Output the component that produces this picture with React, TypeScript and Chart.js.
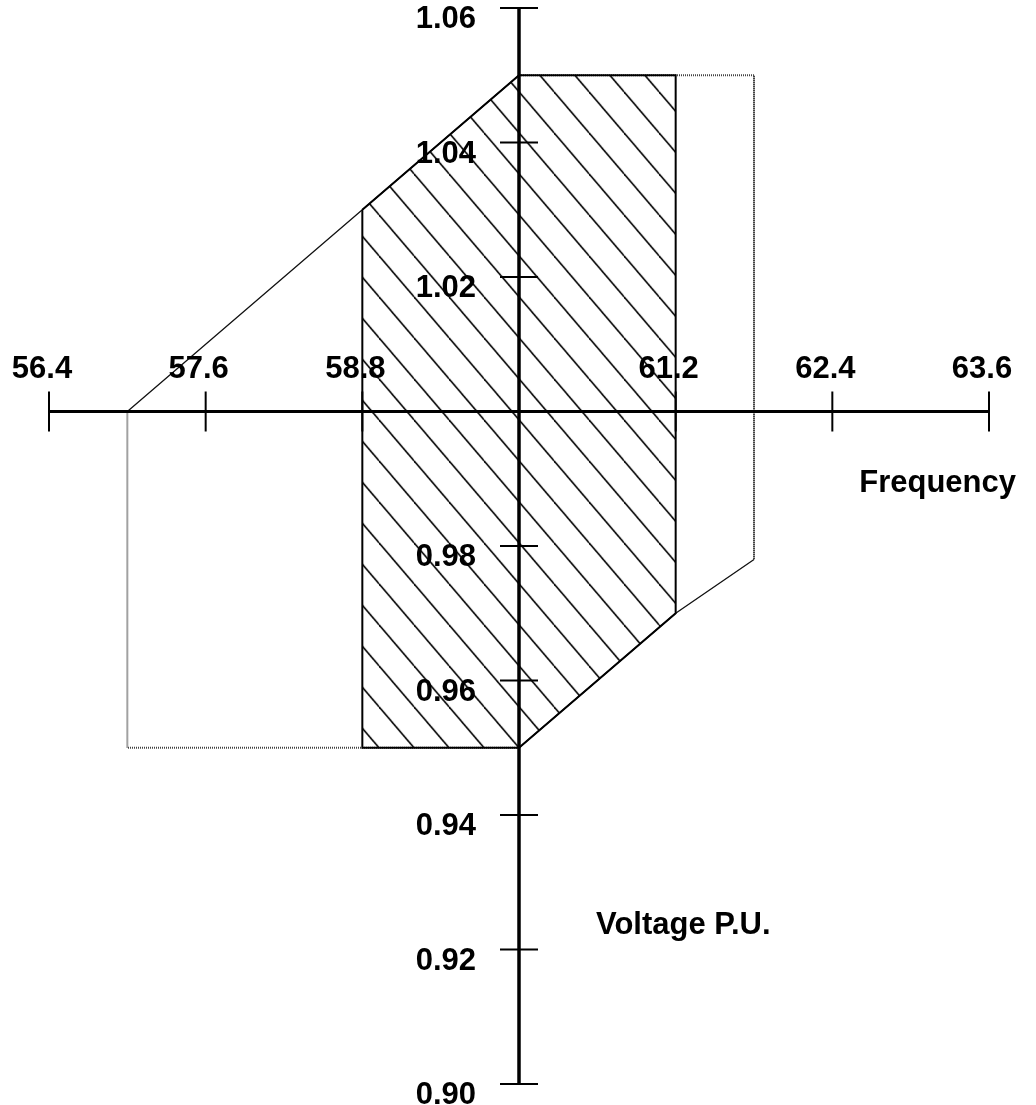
import React, { useEffect, useRef } from "react";
import { Chart, registerables } from "chart.js";

Chart.register(...registerables);

// Axis ticks
const X_TICKS = [56.4, 57.6, 58.8, 60.0, 61.2, 62.4, 63.6];
const X_TICK_LABELS = ["56.4", "57.6", "58.8", "", "61.2", "62.4", "63.6"];
const Y_TICKS = [0.9, 0.92, 0.94, 0.96, 0.98, 1.0, 1.02, 1.04, 1.06];
const Y_TICK_LABELS = ["0.90", "0.92", "0.94", "0.96", "0.98", "", "1.02", "1.04", "1.06"];
const X_CROSS = 60.0; // where the voltage axis crosses
const Y_CROSS = 1.0; // where the frequency axis crosses

// Inner (hatched) zone
const ZONE_A_FREQ = [58.8, 60.0, 61.2, 61.2, 60.0, 58.8, 58.8];
const ZONE_A_VOLT = [1.03, 1.05, 1.05, 0.97, 0.95, 0.95, 1.03];

// Outer zone
const ZONE_B_FREQ = [57.0, 58.8, 60.0, 61.8, 61.8, 61.2, 60.0, 57.0, 57.0];
const ZONE_B_VOLT = [1.0, 1.03, 1.05, 1.05, 0.978, 0.97, 0.95, 0.95, 1.0];

const X_TITLE = "Frequency";
const Y_TITLE = "Voltage P.U.";

const FONT = 'bold 31px "Liberation Sans", Arial, Helvetica, sans-serif';

function makeHatch(): CanvasPattern | string {
  const W = 35;
  const H = 41;
  const c = document.createElement("canvas");
  c.width = W;
  c.height = H;
  const g = c.getContext("2d");
  if (!g) return "transparent";
  g.strokeStyle = "#000";
  g.lineWidth = 1.6;
  for (let k = -1; k <= 1; k++) {
    g.beginPath();
    g.moveTo(k * W, 0);
    g.lineTo(k * W + W, H);
    g.stroke();
  }
  const p = g.createPattern(c, "repeat");
  return p || "transparent";
}

export default function App() {
  const ref = useRef<HTMLCanvasElement | null>(null);

  useEffect(() => {
    const canvas = ref.current;
    if (!canvas) return;
    const hatch = makeHatch();

    const zoneA = ZONE_A_FREQ.map((f, i) => ({ x: f, y: ZONE_A_VOLT[i] }));
    const zoneB = ZONE_B_FREQ.map((f, i) => ({ x: f, y: ZONE_B_VOLT[i] }));

    const setTicks = (values: number[]) => (scale: any) => {
      scale.ticks = values.map((v) => ({ value: v }));
    };

    const isOrtho = (c: any) =>
      c.p0.parsed.x === c.p1.parsed.x || c.p0.parsed.y === c.p1.parsed.y;

    const hatchAnchor = {
      id: "hatchAnchor",
      beforeDatasetsDraw(chart: any) {
        if (typeof hatch !== "string" && (hatch as any).setTransform) {
          const ax = chart.scales.x.getPixelForValue(ZONE_A_FREQ[4]);
          const ay = chart.scales.y.getPixelForValue(ZONE_A_VOLT[4]);
          (hatch as any).setTransform(new DOMMatrix([1, 0, 0, 1, ax, ay]));
        }
      },
    };

    const crossAxes = {
      id: "crossAxes",
      afterDatasetsDraw(chart: any) {
        const ctx = chart.ctx as CanvasRenderingContext2D;
        const xs = chart.scales.x;
        const ys = chart.scales.y;
        const x0 = xs.getPixelForValue(X_CROSS);
        const y0 = ys.getPixelForValue(Y_CROSS);
        ctx.save();
        ctx.strokeStyle = "#000";
        ctx.lineCap = "butt";
        // frequency axis
        ctx.lineWidth = 3;
        ctx.beginPath();
        ctx.moveTo(xs.getPixelForValue(X_TICKS[0]), y0);
        ctx.lineTo(xs.getPixelForValue(X_TICKS[X_TICKS.length - 1]), y0);
        ctx.stroke();
        // voltage axis
        ctx.lineWidth = 3.5;
        ctx.beginPath();
        ctx.moveTo(x0, ys.getPixelForValue(Y_TICKS[Y_TICKS.length - 1]));
        ctx.lineTo(x0, ys.getPixelForValue(Y_TICKS[0]));
        ctx.stroke();
        // tick marks
        ctx.lineWidth = 2;
        xs.ticks.forEach((t: any, i: number) => {
          if (Math.abs(t.value - X_CROSS) < 1e-9) return;
          const px = xs.getPixelForTick(i);
          ctx.beginPath();
          ctx.moveTo(px, y0 - 20);
          ctx.lineTo(px, y0 + 20);
          ctx.stroke();
        });
        ys.ticks.forEach((t: any, i: number) => {
          if (Math.abs(t.value - Y_CROSS) < 1e-9) return;
          const py = ys.getPixelForTick(i);
          ctx.beginPath();
          ctx.moveTo(x0 - 19, py);
          ctx.lineTo(x0 + 19, py);
          ctx.stroke();
        });
        // tick labels
        ctx.font = FONT;
        ctx.fillStyle = "#000";
        ctx.textBaseline = "alphabetic";
        ctx.textAlign = "center";
        X_TICKS.forEach((v, i) => {
          const px = xs.getPixelForValue(v);
          ctx.fillText(X_TICK_LABELS[i], px - 7, y0 - 34);
        });
        ctx.textAlign = "right";
        Y_TICKS.forEach((v, i) => {
          const py = ys.getPixelForValue(v);
          ctx.fillText(Y_TICK_LABELS[i], x0 - 43, py + 20);
        });
        // axis titles
        ctx.textAlign = "right";
        ctx.fillText(X_TITLE, xs.right + 27, y0 + 80);
        ctx.textAlign = "left";
        ctx.fillText(Y_TITLE, x0 + 77, ys.getPixelForValue(0.92) - 16);
        ctx.restore();
      },
    };

    const chart = new Chart(canvas, {
      type: "line",
      data: {
        datasets: [
          {
            label: "Zone A",
            data: zoneA,
            borderColor: "#000",
            borderWidth: 2,
            backgroundColor: hatch as any,
            fill: "shape",
            pointRadius: 0,
            tension: 0,
            order: 0,
          },
          {
            label: "Zone B",
            data: zoneB,
            borderColor: "#111",
            borderWidth: 1.3,
            fill: false,
            pointRadius: 0,
            tension: 0,
            order: 1,
            segment: {
              borderDash: (c: any) => (isOrtho(c) ? [1, 1] : undefined),
              borderColor: (c: any) => (isOrtho(c) ? "#444" : undefined),
              borderWidth: (c: any) => (isOrtho(c) ? 2 : undefined),
            },
          },
        ],
      },
      options: {
        animation: false,
        responsive: false,
        maintainAspectRatio: false,
        layout: { padding: { left: 49, right: 47, top: 8, bottom: 21 } },
        plugins: {
          legend: { display: false },
          tooltip: { enabled: false },
        },
        scales: {
          x: {
            type: "linear",
            min: X_TICKS[0],
            max: X_TICKS[X_TICKS.length - 1],
            display: false,
            afterBuildTicks: setTicks(X_TICKS),
          },
          y: {
            type: "linear",
            min: Y_TICKS[0],
            max: Y_TICKS[Y_TICKS.length - 1],
            display: false,
            afterBuildTicks: setTicks(Y_TICKS),
          },
        },
      },
      plugins: [hatchAnchor, crossAxes],
    });

    return () => chart.destroy();
  }, []);

  return (
    <div style={{ position: "absolute", left: 0, top: 0, width: 1036, height: 1105, background: "#fff" }}>
      <canvas ref={ref} width={1036} height={1105} style={{ display: "block" }} />
    </div>
  );
}
